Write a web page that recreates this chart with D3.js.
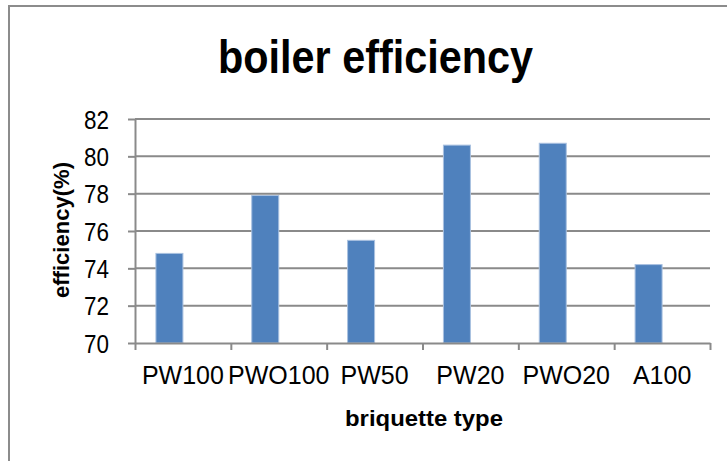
<!DOCTYPE html>
<html>
<head>
<meta charset="utf-8">
<script src="https://cdn.jsdelivr.net/npm/d3@7"></script>
<style>
  body { margin: 0; background: #fff; }
  svg { display: block; font-family: "Liberation Sans", Arial, sans-serif; }
</style>
</head>
<body>
<div id="chart"></div>
<script>

// data
var categories = ["PW100", "PWO100", "PW50", "PW20", "PWO20", "A100"];
var efficiency = [74.8, 77.9, 75.5, 80.6, 80.7, 74.2];
var yTicks = [70, 72, 74, 76, 78, 80, 82];

var chartTitle = "boiler efficiency";
var xTitle = "briquette type";
var yTitle = "efficiency(%)";


var width = 727, height = 461;
var margin = {left: 135, right: 17, top: 119, bottom: 118};

var svg = d3.select("#chart").append("svg")
  .attr("width", width).attr("height", height);

svg.plotW = width - margin.left - margin.right;
svg.plotH = height - margin.top - margin.bottom;

//frame of the chart area (only top and left visible)
svg.append("path")
  .attr("d", "M9," + height + "V6H" + width)
  .attr("fill", "none").attr("stroke", "#8c8c8c").attr("stroke-width", 2);

var y = d3.scaleLinear().domain([70, 82]).range([margin.top + svg.plotH, margin.top]);

var xCat = d3.scaleBand().domain(categories)
  .range([margin.left, margin.left + svg.plotW]).padding(0);

//two series slots per category, the second one is empty in the original
var slot = d3.scaleBand().domain([0, 1])
  .range([0, xCat.bandwidth()]).paddingInner(0).paddingOuter(0.775);

var xEdges = d3.scaleLinear().domain([0, categories.length])
  .range([margin.left, margin.left + svg.plotW]);

//grid
svg.append("g").classed("grid", true)
  .selectAll("line").data(yTicks.slice(1)).enter().append("line")
  .attr("x1", margin.left).attr("x2", margin.left + svg.plotW)
  .attr("y1", function (d) { return y(d); })
  .attr("y2", function (d) { return y(d); })
  .attr("stroke", "#8a8a8a").attr("stroke-width", 2);

//bars
svg.append("g").selectAll("rect").data(efficiency).enter().append("rect")
  .attr("x", function (d, i) { return xCat(categories[i]) + slot(0); })
  .attr("width", slot.bandwidth())
  .attr("y", function (d) { return y(d); })
  .attr("height", function (d) { return y(70) - y(d); })
  .attr("fill", "#4f81bd")
  .attr("stroke", "#a9c1e0").attr("stroke-width", 1);

//y axis
var axisY = svg.append("g")
  .attr("transform", "translate(" + margin.left + ",0)")
  .call(d3.axisLeft(y).tickValues(yTicks).tickSize(7).tickSizeOuter(0).tickPadding(19));
axisY.selectAll("line, path").attr("stroke", "#8a8a8a").attr("stroke-width", 2);
axisY.selectAll("text").attr("font-size", 25).attr("fill", "#000")
  .attr("font-family", "'Liberation Sans', Arial, sans-serif").attr("dy", "0.36em")
  .attr("textLength", 25).attr("lengthAdjust", "spacingAndGlyphs");

//x axis: ticks on the category edges
var axisX = svg.append("g")
  .attr("transform", "translate(0," + y(70) + ")")
  .call(d3.axisBottom(xEdges).ticks(categories.length).tickSize(7).tickSizeOuter(0).tickFormat(""));
axisX.selectAll("line, path").attr("stroke", "#8a8a8a").attr("stroke-width", 2);

//x labels centred in each category
var labelsX = svg.append("g")
  .attr("transform", "translate(0," + y(70) + ")")
  .call(d3.axisBottom(xCat).tickSize(0).tickPadding(23.5));
labelsX.select(".domain").remove();
labelsX.selectAll("text").attr("font-size", 25).attr("fill", "#000")
  .attr("font-family", "'Liberation Sans', Arial, sans-serif");

//titles
svg.append("text")
  .attr("x", 375.5).attr("y", 73)
  .attr("text-anchor", "middle")
  .attr("font-size", 46).attr("font-weight", "bold")
  .attr("textLength", 315).attr("lengthAdjust", "spacingAndGlyphs")
  .text(chartTitle);

svg.append("text")
  .attr("x", 424).attr("y", 426)
  .attr("text-anchor", "middle")
  .attr("font-size", 22).attr("font-weight", "bold")
  .attr("textLength", 158).attr("lengthAdjust", "spacingAndGlyphs")
  .text(xTitle);

svg.append("text")
  .attr("transform", "translate(69,230) rotate(-90)")
  .attr("text-anchor", "middle")
  .attr("font-size", 22).attr("font-weight", "bold")
  .attr("textLength", 136).attr("lengthAdjust", "spacingAndGlyphs")
  .text(yTitle);

</script>
</body>
</html>
